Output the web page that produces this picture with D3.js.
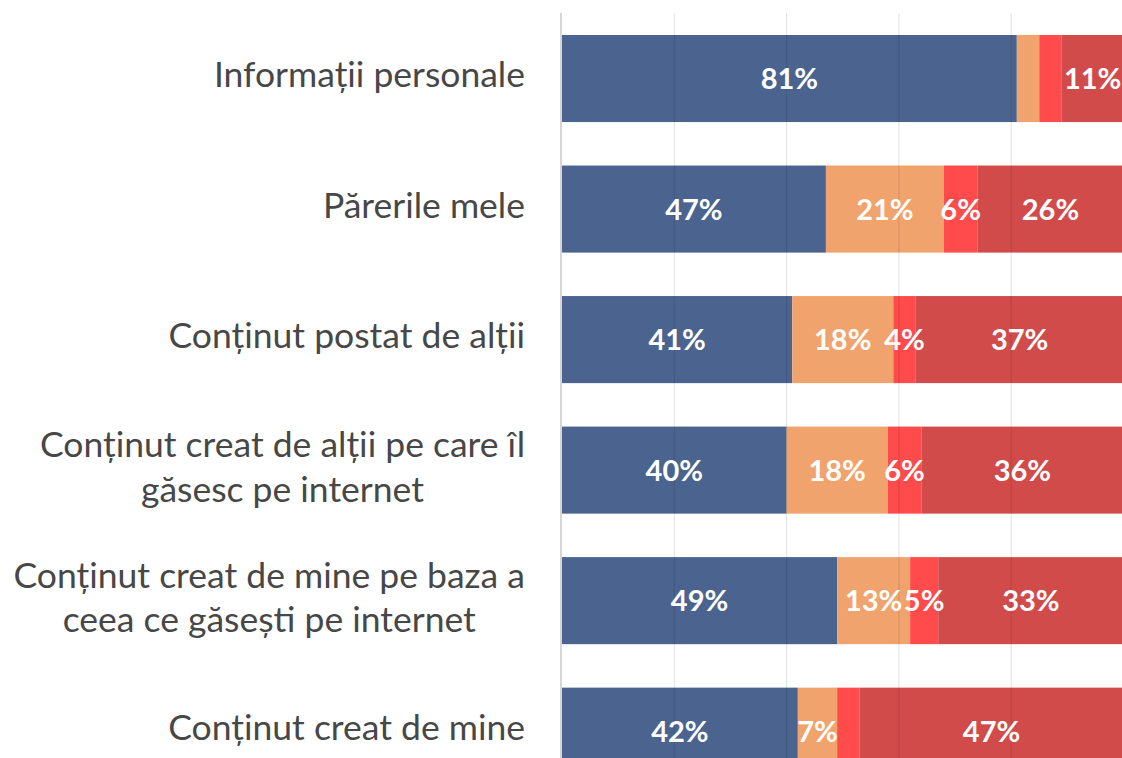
<!DOCTYPE html>
<html>
<head>
<meta charset="utf-8">
<script src="https://cdn.jsdelivr.net/npm/d3@7"></script>
<style>
  html, body { margin: 0; padding: 0; background: #fff; overflow: hidden; }
  svg { display: block; }
</style>
</head>
<body>
<script>
(() => {

    // categorii (randurile graficului), "\n" = rand nou in eticheta
    var categories = [
        "Informații personale",
        "Părerile mele",
        "Conținut postat de alții",
        "Conținut creat de alții pe care îl\ngăsesc pe internet",
        "Conținut creat de mine pe baza a\nceea ce găsești pe internet",
        "Conținut creat de mine"
    ];

    // seriile, in ordinea stivei
    var serie1 = [81, 47, 41, 40, 49, 42];
    var serie2 = [4, 21, 18, 18, 13, 7];
    var serie3 = [4, 6, 4, 6, 5, 4];
    var serie4 = [11, 26, 37, 36, 33, 47];

    var colors = ["#4b638f", "#f1a36d", "#ff4b4b", "#d14b4b"];

    // etichete care nu apar in original: [rand, serie]
    var hiddenLabels = [[0, 1], [0, 2], [5, 2]];

    var w = 1122,
        h = 758;

    var svg = d3.select("body").append("svg")
        .attr("width", w).attr("height", h);

    var series = [serie1, serie2, serie3, serie4];

    var rows = categories.map((c, i) => {
        var r = { cat: c };
        series.forEach((s, k) => { r["s" + k] = s[i]; });
        return r;
    });

    var keys = series.map((s, k) => "s" + k);
    var stacked = d3.stack().keys(keys)(rows);

    var x = d3.scaleLinear().domain([0, 100]).range([562, 1123.5]);
    var y = d3.scaleBand().domain(categories)
        .range([35, 774.7]).paddingInner(0.333).paddingOuter(0);

    var bars = svg.append("g");

    bars.selectAll(".serie").data(stacked).enter()
        .append("g").attr("class", "serie")
        .attr("fill", (d, k) => colors[k])
        .selectAll("rect").data(d => d).enter()
        .append("rect")
        .attr("x", d => x(d[0]))
        .attr("y", d => y(d.data.cat))
        .attr("width", d => x(d[1]) - x(d[0]))
        .attr("height", y.bandwidth());

    // gridlines (deasupra barelor, foarte transparente)
    svg.append("g").selectAll("line").data(x.ticks(5).filter(t => t > 0))
        .enter().append("line")
        .attr("x1", d => x(d)).attr("x2", d => x(d))
        .attr("y1", 13).attr("y2", h)
        .attr("stroke", "#000").attr("stroke-opacity", 0.1)
        .attr("stroke-width", 1.2);

    // axa verticala
    svg.append("line")
        .attr("x1", 561).attr("x2", 561)
        .attr("y1", 13).attr("y2", h)
        .attr("stroke", "#d6d6d6").attr("stroke-width", 2);

    // etichetele valorilor
    var isHidden = (i, k) => hiddenLabels.some(p => p[0] === i && p[1] === k);

    var labels = svg.append("g")
        .attr("font-family", "Lato, 'Open Sans', sans-serif")
        .attr("font-weight", "bold")
        .attr("font-size", 29)
        .attr("fill", "#fff")
        .attr("text-anchor", "middle");

    stacked.forEach((layer, k) => {
        layer.forEach((d, i) => {
            if (isHidden(i, k)) return;
            var cx = (x(d[0]) + x(Math.min(d[1], 100))) / 2;
            labels.append("text")
                .attr("x", cx)
                .attr("y", y(d.data.cat) + y.bandwidth() / 2 + 10.5)
                .text((d[1] - d[0]) + "%");
        });
    });

    // etichetele categoriilor
    var catLabels = svg.append("g")
        .attr("font-family", "Lato, 'Open Sans', sans-serif")
        .attr("font-size", 35.5)
        .attr("fill", "#474747")
        .attr("text-anchor", "middle");

    categories.forEach(c => {
        var lines = c.split("\n");
        var cy = y(c) + y.bandwidth() / 2;
        var t = catLabels.append("text");
        if (lines.length === 1) {
            t.attr("text-anchor", "end")
                .attr("x", 525).attr("y", cy + 8.5).text(c);
        } else {
            // centrat pe linia cea mai lunga, aliniat la dreapta
            t.attr("x", 0).attr("y", 0);
            lines.forEach((l, j) => {
                t.append("tspan").attr("x", 0)
                    .attr("y", cy - 13 + j * 44.5).text(l);
            });
            var wMax = d3.max(t.selectAll("tspan").nodes(), n => n.getComputedTextLength());
            t.attr("transform", "translate(" + (525 - wMax / 2) + ",0)");
        }
    });

})()
</script>
</body>
</html>
